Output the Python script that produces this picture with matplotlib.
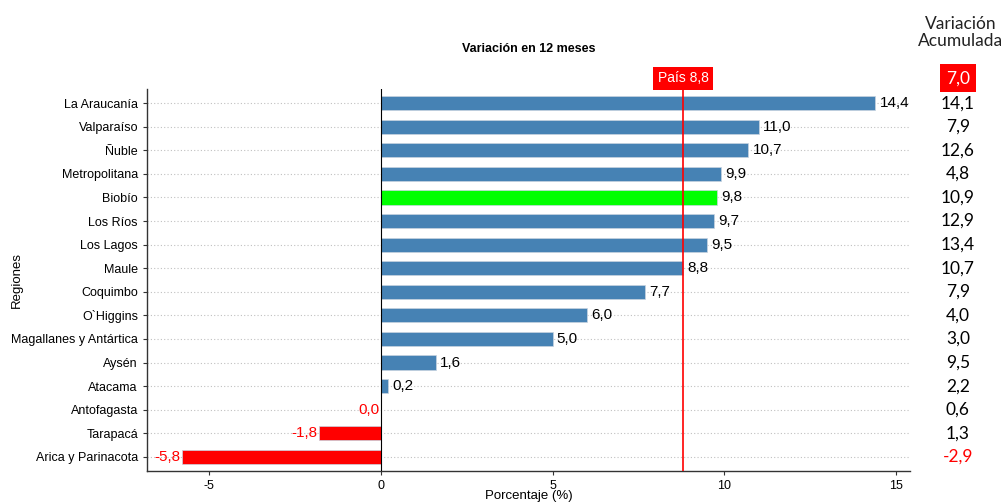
"""
Variación en 12 meses por región
"""

import matplotlib.pyplot as plt
from matplotlib import transforms

# Data, top to bottom as in the chart
regiones = [
    'La Araucanía', 'Valparaíso', 'Ñuble', 'Metropolitana', 'Biobío',
    'Los Ríos', 'Los Lagos', 'Maule', 'Coquimbo', 'O`Higgins',
    'Magallanes y Antártica', 'Aysén', 'Atacama', 'Antofagasta',
    'Tarapacá', 'Arica y Parinacota',
]
var_12m = [14.4, 11.0, 10.7, 9.9, 9.8, 9.7, 9.5, 8.8, 7.7, 6.0, 5.0, 1.6, 0.2, 0.0, -1.8, -5.8]
var_acum = [14.1, 7.9, 12.6, 4.8, 10.9, 12.9, 13.4, 10.7, 7.9, 4.0, 3.0, 9.5, 2.2, 0.6, 1.3, -2.9]
pais_12m = 8.8
pais_acum = 7.0
destacada = 'Biobío'


def fmt(v: float) -> str:
    return f'{v:.1f}'.replace('.', ',')


plt.rcParams['font.family'] = ['Liberation Sans', 'DejaVu Sans']
tick_fs = 9
val_fs = 11

fig = plt.figure(figsize=(10.04, 5.03), dpi=100)
ax = fig.add_axes([0.1464, 0.0636, 0.760, 0.7594])

n = len(regiones)
ys = [n - 1 - i for i in range(n)]
colors = []
for reg, v in zip(regiones, var_12m):
    if v <= 0:
        colors.append('#FF0000')
    elif reg == destacada:
        colors.append('#00FF00')
    else:
        colors.append('#4682B4')

ax.barh(ys, var_12m, height=0.6, color=colors, edgecolor='#c8d4e0', linewidth=0.5, zorder=2)

# Value labels
for y, v in zip(ys, var_12m):
    if v > 0:
        ax.annotate(fmt(v), (v, y), xytext=(3, 0), textcoords='offset points',
                    ha='left', va='center', fontsize=val_fs, color='black', zorder=4)
    else:
        ax.annotate(fmt(v), (v, y), xytext=(-1, 0), textcoords='offset points',
                    ha='right', va='center', fontsize=val_fs, color='#FF0000', zorder=4)

# Country line and label
ax.axvline(pais_12m, color='#FF0000', linewidth=1.2, zorder=3)
ax.text(pais_12m, n - 0.5 + 0.55, f'País {fmt(pais_12m)}', ha='center', va='center',
        color='white', fontsize=10, clip_on=False,
        bbox=dict(boxstyle='square,pad=0.3', facecolor='#FF0000', edgecolor='none'))

ax.set_xlim(-6.81, 15.41)
ax.set_ylim(-0.6, n - 0.4)
ax.set_yticks(ys)
ax.set_yticklabels(regiones, fontsize=tick_fs)
ax.set_xticks([-5, 0, 5, 10, 15])
ax.set_xticklabels(['-5', '0', '5', '10', '15'], fontsize=tick_fs)
ax.tick_params(axis='both', length=3, color='#333333', width=0.8)

ax.grid(axis='y', linestyle=(0, (1, 2)), color='#c0c0c0', linewidth=0.8, zorder=0)
ax.axvline(0, color='black', linewidth=0.8, zorder=3)

for side in ['top', 'right']:
    ax.spines[side].set_visible(False)
for side in ['left', 'bottom']:
    ax.spines[side].set_color('#333333')
    ax.spines[side].set_linewidth(1.0)

ax.set_title('Variación en 12 meses', fontsize=tick_fs, fontweight='bold', pad=27)
ax.set_xlabel('Porcentaje (%)', fontsize=tick_fs + 0.5)
ax.xaxis.set_label_coords(0.5, -0.050)
ax.set_ylabel('Regiones', fontsize=tick_fs + 0.5)
ax.yaxis.set_label_coords(-0.162, 0.5)

# Right column: cumulative variation
col_x = 0.954
trans = transforms.blended_transform_factory(fig.transFigure, ax.transData)
for y, v in zip(ys, var_acum):
    ax.text(col_x, y, fmt(v), transform=trans, ha='center', va='center',
            fontsize=12.5, family='Lato', color='#FF0000' if v < 0 else 'black', clip_on=False)
ax.text(col_x, n - 0.5 + 0.55, fmt(pais_acum), transform=trans, ha='center', va='center',
        fontsize=12.5, family='Lato', color='white', clip_on=False,
        bbox=dict(boxstyle='square,pad=0.35', facecolor='#FF0000', edgecolor='none'))
fig.text(col_x + 0.003, 0.935, 'Variación\nAcumulada', ha='center', va='center',
         fontsize=12.5, family='Lato', color='#222222', linespacing=1.1)

fig.savefig('out.png', dpi=100)
